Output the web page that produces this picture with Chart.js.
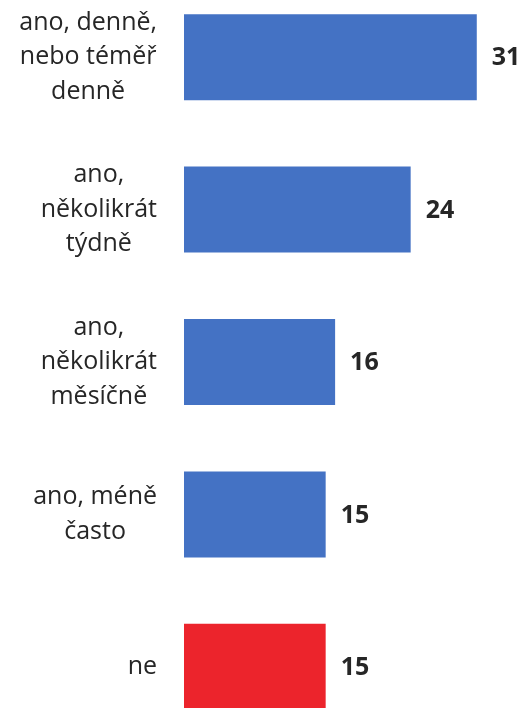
<!DOCTYPE html>
<html lang="cs">
<head>
<meta charset="utf-8">
<title>Frekvence</title>
<script src="https://cdn.jsdelivr.net/npm/chart.js@4/dist/chart.umd.min.js"></script>
<style>
  html, body { margin: 0; padding: 0; background: #fff; overflow: hidden; }
  body { width: 524px; height: 708px; position: relative; }
  #wrap { position: absolute; left: 0; top: -19px; width: 524px; height: 762px; }
</style>
</head>
<body>
<div id="wrap"><canvas id="graf"></canvas></div>
<script>
const kategorie = [
  ["ano, denně,", "nebo téměř", "denně"],
  ["ano,", "několikrát", "týdně"],
  ["ano,", "několikrát", "měsíčně"],
  ["ano, méně", "často"],
  ["ne"],
];
const hodnoty = [31, 24, 16, 15, 15];

const MODRA = "#4472c4";
const CERVENA = "#ec242c";
const TEXT = "#262626";
const FONT = "'Open Sans', 'Noto Sans', sans-serif";
const LABEL_RIGHT = 157;   // pravý okraj bloku popisků
const LINE_H = 34.5;

// popisky kategorií: blok zarovnaný vpravo, řádky uvnitř na střed
const popiskyKategorii = {
  id: "popiskyKategorii",
  afterDraw(chart) {
    const ctx = chart.ctx;
    const y = chart.scales.y;
    ctx.save();
    ctx.font = `25px ${FONT}`;
    ctx.fillStyle = TEXT;
    ctx.textAlign = "center";
    ctx.textBaseline = "middle";
    kategorie.forEach((radky, i) => {
      const maxW = Math.max(...radky.map((r) => ctx.measureText(r).width));
      const cx = LABEL_RIGHT - maxW / 2;
      const cy = y.getPixelForValue(i);
      const top = cy - ((radky.length - 1) * LINE_H) / 2;
      radky.forEach((r, j) => ctx.fillText(r, cx, top + j * LINE_H));
    });
    ctx.restore();
  },
};

// hodnoty vpravo od sloupců
const popiskyHodnot = {
  id: "popiskyHodnot",
  afterDatasetsDraw(chart) {
    const ctx = chart.ctx;
    const meta = chart.getDatasetMeta(0);
    ctx.save();
    ctx.font = `bold 25px ${FONT}`;
    ctx.fillStyle = TEXT;
    ctx.textAlign = "left";
    ctx.textBaseline = "middle";
    meta.data.forEach((bar, i) => {
      ctx.fillText(String(hodnoty[i]), bar.x + 15, bar.y + 1);
    });
    ctx.restore();
  },
};

new Chart(document.getElementById("graf"), {
  type: "bar",
  data: {
    labels: kategorie,
    datasets: [{
      data: hodnoty,
      backgroundColor: hodnoty.map((_, i) => (i === hodnoty.length - 1 ? CERVENA : MODRA)),
      borderWidth: 0,
      categoryPercentage: 1,
      barPercentage: 0.564,
    }],
  },
  options: {
    indexAxis: "y",
    responsive: true,
    maintainAspectRatio: false,
    animation: false,
    layout: { padding: { left: 184, right: 0, top: 0, bottom: 0 } },
    plugins: { legend: { display: false }, tooltip: { enabled: false } },
    scales: {
      x: { display: false, min: 0, max: 36 },
      y: { display: false },
    },
  },
  plugins: [popiskyKategorii, popiskyHodnot],
});
</script>
</body>
</html>
